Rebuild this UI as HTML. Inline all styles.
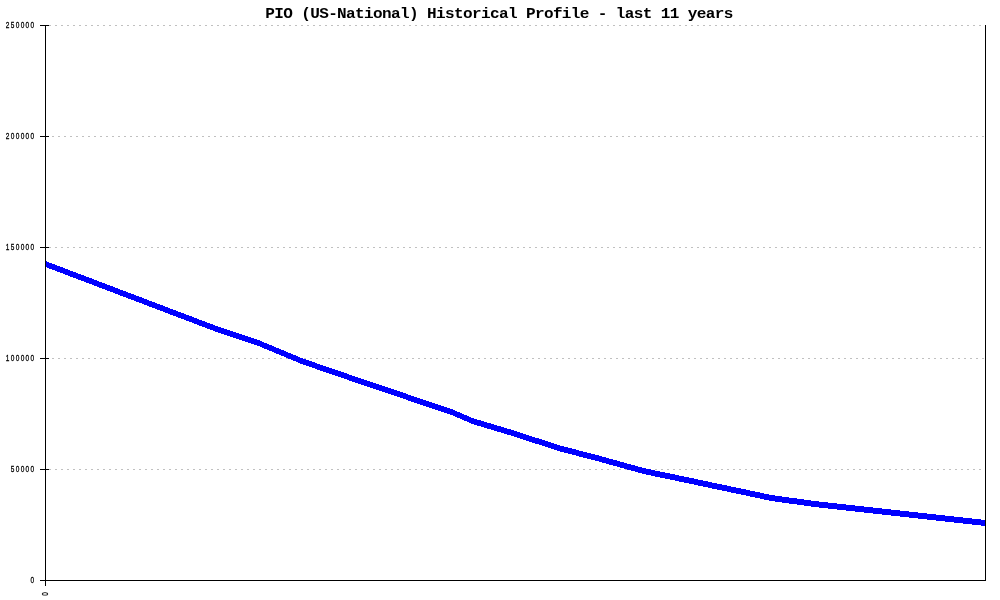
<!DOCTYPE html>
<html><head><meta charset="utf-8"><title>PIO (US-National) Historical Profile</title>
<style>
html,body{margin:0;padding:0;background:#fff;}
body{width:1000px;height:600px;overflow:hidden;position:relative;}
svg{position:absolute;left:0;top:0;display:block;}
.title{font-family:"Liberation Mono",monospace;font-weight:bold;font-size:15px;fill:#000;}
.tiny{font-family:"Liberation Sans",sans-serif;font-size:9.6px;fill:#000;stroke:#000;stroke-width:0.3px;letter-spacing:2.01px;}
</style></head><body>
<svg width="1000" height="600" viewBox="0 0 1000 600">
<rect width="1000" height="600" fill="#fff"/>
<g shape-rendering="crispEdges">
<!-- grid -->
<g stroke="#c0c0c0" stroke-width="1" stroke-dasharray="2 4" fill="none">
<path d="M49 25.5H985"/>
<path d="M52 136.5H985"/>
<path d="M49 247.5H985"/>
<path d="M52 358.5H985"/>
<path d="M49 469.5H985"/>
</g>
<!-- data line -->
<path fill="#0000ff" d="M46 261H47V262H49V263H52V264H55V265H57V266H60V267H63V268H65V269H68V270H70V271H73V272H76V273H78V274H81V275H84V276H86V277H89V278H92V279H94V280H97V281H99V282H102V283H105V284H107V285H110V286H113V287H115V288H118V289H120V290H123V291H126V292H128V293H131V294H134V295H136V296H139V297H142V298H144V299H147V300H149V301H152V302H155V303H157V304H160V305H163V306H165V307H168V308H170V309H173V310H176V311H178V312H181V313H184V314H186V315H189V316H192V317H194V318H197V319H199V320H202V321H205V322H207V323H210V324H213V325H215V326H218V327H221V328H224V329H227V330H230V331H233V332H236V333H239V334H242V335H245V336H248V337H251V338H254V339H257V340H260V341H262V342H264V343H267V344H269V345H272V346H274V347H276V348H279V349H281V350H284V351H286V352H288V353H291V354H293V355H296V356H298V357H300V358H303V359H306V360H309V361H312V362H315V363H317V364H320V365H323V366H326V367H329V368H332V369H335V370H338V371H341V372H344V373H347V374H349V375H352V376H355V377H358V378H361V379H364V380H367V381H370V382H373V383H376V384H379V385H382V386H385V387H388V388H391V389H394V390H397V391H400V392H403V393H406V394H408V395H411V396H414V397H417V398H420V399H423V400H426V401H429V402H432V403H435V404H438V405H441V406H444V407H447V408H450V409H453V410H455V411H457V412H460V413H462V414H464V415H467V416H469V417H471V418H474V419H477V420H481V421H484V422H487V423H491V424H494V425H497V426H501V427H504V428H507V429H511V430H514V431H517V432H520V433H523V434H526V435H529V436H532V437H535V438H539V439H542V440H545V441H548V442H551V443H554V444H557V445H560V446H564V447H568V448H572V449H576V450H579V451H583V452H587V453H591V454H595V455H599V456H602V457H606V458H609V459H613V460H617V461H620V462H624V463H627V464H631V465H635V466H638V467H642V468H646V469H651V470H655V471H660V472H665V473H670V474H675V475H679V476H684V477H689V478H694V479H698V480H703V481H708V482H712V483H717V484H722V485H727V486H731V487H736V488H741V489H746V490H750V491H755V492H760V493H764V494H769V495H775V496H782V497H789V498H797V499H804V500H811V501H819V502H828V503H837V504H846V505H855V506H864V507H873V508H882V509H891V510H900V511H909V512H918V513H927V514H936V515H945V516H954V517H963V518H972V519H981V520H985V526H981V525H972V524H963V523H954V522H945V521H936V520H927V519H918V518H909V517H900V516H891V515H882V514H873V513H864V512H855V511H846V510H837V509H828V508H819V507H811V506H804V505H797V504H789V503H782V502H775V501H769V500H764V499H760V498H755V497H750V496H746V495H741V494H736V493H731V492H727V491H722V490H717V489H712V488H708V487H703V486H698V485H694V484H689V483H684V482H679V481H675V480H670V479H665V478H660V477H655V476H651V475H646V474H642V473H638V472H635V471H631V470H627V469H624V468H620V467H617V466H613V465H609V464H606V463H602V462H599V461H595V460H591V459H587V458H583V457H579V456H576V455H572V454H568V453H564V452H560V451H557V450H554V449H551V448H548V447H545V446H542V445H539V444H535V443H532V442H529V441H526V440H523V439H520V438H517V437H514V436H511V435H507V434H504V433H501V432H497V431H494V430H491V429H487V428H484V427H481V426H477V425H474V424H471V423H469V422H467V421H464V420H462V419H460V418H457V417H455V416H453V415H450V414H447V413H444V412H441V411H438V410H435V409H432V408H429V407H426V406H423V405H420V404H417V403H414V402H411V401H408V400H406V399H403V398H400V397H397V396H394V395H391V394H388V393H385V392H382V391H379V390H376V389H373V388H370V387H367V386H364V385H361V384H358V383H355V382H352V381H349V380H347V379H344V378H341V377H338V376H335V375H332V374H329V373H326V372H323V371H320V370H317V369H315V368H312V367H309V366H306V365H303V364H300V363H298V362H296V361H293V360H291V359H288V358H286V357H284V356H281V355H279V354H276V353H274V352H272V351H269V350H267V349H264V348H262V347H260V346H257V345H254V344H251V343H248V342H245V341H242V340H239V339H236V338H233V337H230V336H227V335H224V334H221V333H218V332H215V331H213V330H210V329H207V328H205V327H202V326H199V325H197V324H194V323H192V322H189V321H186V320H184V319H181V318H178V317H176V316H173V315H170V314H168V313H165V312H163V311H160V310H157V309H155V308H152V307H149V306H147V305H144V304H142V303H139V302H136V301H134V300H131V299H128V298H126V297H123V296H120V295H118V294H115V293H113V292H110V291H107V290H105V289H102V288H99V287H97V286H94V285H92V284H89V283H86V282H84V281H81V280H78V279H76V278H73V277H70V276H68V275H65V274H63V273H60V272H57V271H55V270H52V269H49V268H47V267H46Z"/>
<!-- axes -->
<g fill="#000">
<rect x="45" y="25" width="1" height="561"/>
<rect x="985" y="25" width="1" height="556"/>
<rect x="40" y="580" width="946" height="1"/>
<rect x="40" y="25" width="9" height="1"/>
<rect x="40" y="136" width="9" height="1"/>
<rect x="40" y="247" width="9" height="1"/>
<rect x="40" y="358" width="9" height="1"/>
<rect x="40" y="469" width="9" height="1"/>
</g>
</g>
<text class="title" transform="translate(265.2,18) scale(1.07,1)" letter-spacing="-0.589">PIO (US-National) Historical Profile - last 11 years</text>
<g class="tiny" text-anchor="end">
<text transform="translate(35.6,27.8) scale(0.68,1)">250000</text>
<text transform="translate(35.6,138.8) scale(0.68,1)">200000</text>
<text transform="translate(35.6,249.8) scale(0.68,1)">150000</text>
<text transform="translate(35.6,360.8) scale(0.68,1)">100000</text>
<text transform="translate(35.6,471.8) scale(0.68,1)">50000</text>
<text transform="translate(35.6,582.8) scale(0.68,1)">0</text>
</g>
<text class="tiny" transform="translate(47.9,595.7) rotate(-90) scale(0.68,1)">0</text>
</svg>
</body></html>
